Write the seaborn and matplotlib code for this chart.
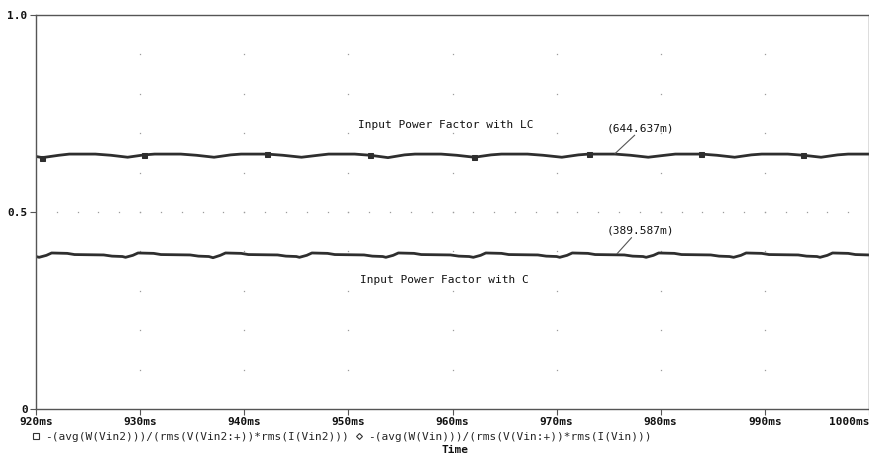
import numpy as np
import pandas as pd
import matplotlib
matplotlib.use("Agg")
import matplotlib.pyplot as plt
import seaborn as sns
from matplotlib.lines import Line2D

# ---- data ----
t_lc = [920.0, 920.6, 922.2, 923.2, 925.7, 927.2,
        928.8, 930.4, 931.4, 933.9, 935.4,
        937.1, 938.7, 939.7, 942.2, 943.7,
        945.5, 947.1, 948.1, 950.6, 952.1,
        953.8, 955.4, 956.4, 958.9, 960.4,
        962.1, 963.7, 964.7, 967.2, 968.7,
        970.5, 972.1, 973.1, 975.6, 977.1,
        978.8, 980.4, 981.4, 983.9, 985.4,
        987.1, 988.7, 989.7, 992.2, 993.7,
        995.4, 997.0, 998.0, 1000.0]
pf_lc = [0.641, 0.638, 0.644, 0.647, 0.647, 0.644,
         0.639, 0.645, 0.647, 0.647, 0.644,
         0.639, 0.645, 0.647, 0.647, 0.644,
         0.639, 0.644, 0.647, 0.647, 0.644,
         0.638, 0.645, 0.647, 0.647, 0.644,
         0.639, 0.645, 0.647, 0.647, 0.644,
         0.639, 0.645, 0.647, 0.647, 0.644,
         0.639, 0.644, 0.647, 0.647, 0.644,
         0.639, 0.645, 0.647, 0.647, 0.644,
         0.639, 0.645, 0.647, 0.647]

t_c = [920.0, 920.3, 921.0, 921.5, 923.0, 923.7, 926.5, 927.3, 928.3,
       928.6, 929.3, 929.8, 931.3, 932.0, 934.8, 935.6, 936.6,
       937.0, 937.7, 938.2, 939.7, 940.4, 943.2, 944.0, 945.0,
       945.3, 946.0, 946.5, 948.0, 948.7, 951.5, 952.3, 953.3,
       953.6, 954.3, 954.8, 956.3, 957.0, 959.8, 960.6, 961.6,
       962.0, 962.7, 963.2, 964.7, 965.4, 968.2, 969.0, 970.0,
       970.3, 971.0, 971.5, 973.0, 973.7, 976.5, 977.3, 978.3,
       978.6, 979.3, 979.8, 981.3, 982.0, 984.8, 985.6, 986.6,
       987.0, 987.7, 988.2, 989.7, 990.4, 993.2, 994.0, 995.0,
       995.3, 996.0, 996.5, 998.0, 998.7, 1000.0]
pf_c = [0.387, 0.385, 0.390, 0.396, 0.395, 0.392, 0.391, 0.388, 0.387,
        0.385, 0.390, 0.396, 0.395, 0.392, 0.391, 0.388, 0.387,
        0.384, 0.390, 0.396, 0.395, 0.392, 0.391, 0.388, 0.387,
        0.385, 0.390, 0.396, 0.395, 0.392, 0.391, 0.388, 0.387,
        0.385, 0.390, 0.396, 0.395, 0.392, 0.391, 0.388, 0.387,
        0.385, 0.390, 0.396, 0.395, 0.392, 0.391, 0.388, 0.387,
        0.385, 0.390, 0.396, 0.395, 0.392, 0.391, 0.388, 0.387,
        0.385, 0.390, 0.396, 0.395, 0.392, 0.391, 0.388, 0.387,
        0.385, 0.390, 0.396, 0.395, 0.392, 0.391, 0.388, 0.387,
        0.385, 0.390, 0.396, 0.395, 0.392, 0.391]

lc_marker_times = [920.8, 930.9, 941.5, 951.9, 962.6, 973.0, 983.5, 994.0]

x_ticks = [920, 930, 940, 950, 960, 970, 980, 990, 1000]
x_tick_labels = ["920ms", "930ms", "940ms", "950ms", "960ms", "970ms",
                 "980ms", "990ms", "1000ms"]
y_ticks = [0, 0.5, 1.0]
y_tick_labels = ["0", "0.5", "1.0"]

label_lc = "Input Power Factor with LC"
label_c = "Input Power Factor with C"
value_lc = "(644.637m)"
value_c = "(389.587m)"
legend_lc = "-(avg(W(Vin2)))/(rms(V(Vin2:+))*rms(I(Vin2)))"
legend_c = "-(avg(W(Vin)))/(rms(V(Vin:+))*rms(I(Vin)))"

# ---- style ----
sns.set_style("white")
MONO = ["DejaVu Sans Mono", "DejaVu Sans"]
plt.rcParams["font.family"] = MONO
FS = 8

fig = plt.figure(figsize=(8.7, 4.58), dpi=100)
ax = fig.add_axes([36 / 870, 1 - 409 / 458, (869 - 36) / 870, (409 - 15) / 458])

df_lc = pd.DataFrame({"t": t_lc, "pf": pf_lc})
df_c = pd.DataFrame({"t": t_c, "pf": pf_c})

mark_idx = [int(np.argmin(np.abs(np.array(t_lc) - m))) for m in lc_marker_times]

sns.lineplot(data=df_lc, x="t", y="pf", ax=ax, color="#2e2e2e", linewidth=2.0,
             marker="s", markevery=mark_idx, markersize=3.6,
             markerfacecolor="#2e2e2e", markeredgecolor="#2e2e2e")
sns.lineplot(data=df_c, x="t", y="pf", ax=ax, color="#2e2e2e", linewidth=2.0)

ax.set_xlim(920, 1000)
ax.set_ylim(0, 1.0)

# dotted grid
gcol = "#9c9c9c"
ygrid = np.arange(0.1, 1.0, 0.1)
for xv in x_ticks[1:-1]:
    ax.plot(np.full_like(ygrid, xv), ygrid, linestyle="none", marker="s",
            markersize=0.9, markeredgewidth=0, color=gcol, zorder=0)
xgrid = np.arange(922, 1000, 2)
ax.plot(xgrid, np.full_like(xgrid, 0.5, dtype=float), linestyle="none",
        marker="s", markersize=0.9, markeredgewidth=0, color=gcol, zorder=0)

ax.set_xticks(x_ticks)
ax.set_xticklabels(x_tick_labels, fontsize=FS, fontweight="bold")
ax.set_yticks(y_ticks)
ax.set_yticklabels(y_tick_labels, fontsize=FS, fontweight="bold")
ax.get_xticklabels()[-1].set_ha("right")
ax.tick_params(axis="both", direction="out", length=4, width=0.8,
               color="#555555", pad=2, labelcolor="#111111")
ax.tick_params(axis="x", bottom=True)
ax.tick_params(axis="y", left=True)
for s in ax.spines.values():
    s.set_color("#555555")
    s.set_linewidth(1.0)
ax.set_xlabel("")
ax.set_ylabel("")

# annotations
ax.text(950.9, 0.721, label_lc, fontsize=FS, va="center", ha="left", color="#111111")
ax.text(951.1, 0.327, label_c, fontsize=FS, va="center", ha="left", color="#111111")
ax.text(978.0, 0.713, value_lc, fontsize=FS, va="center", ha="center", color="#111111")
ax.text(978.0, 0.454, value_c, fontsize=FS, va="center", ha="center", color="#111111")
ax.plot([977.5, 975.6], [0.695, 0.648], color="#555555", linewidth=0.8)
ax.plot([977.2, 975.8], [0.435, 0.394], color="#555555", linewidth=0.8)

# legend line & axis title
handles = [Line2D([], [], linestyle="none", marker="s", markersize=4,
                  markerfacecolor="none", markeredgecolor="#333333", markeredgewidth=0.8),
           Line2D([], [], linestyle="none", marker="D", markersize=3,
                  markerfacecolor="none", markeredgecolor="#333333", markeredgewidth=0.8)]
fig.legend(handles, [legend_lc, legend_c], loc="center left",
           bbox_to_anchor=(33 / 870, 1 - 437 / 458), ncol=2, frameon=False,
           prop={"family": MONO, "size": FS}, handlelength=0.6,
           handletextpad=0.5, columnspacing=0.6, borderpad=0, borderaxespad=0)
fig.text((36 + 869) / 2 / 870 + 0.003, 1 - 450 / 458, "Time", fontsize=FS,
         ha="center", va="center", fontweight="bold", color="#111111")

fig.savefig("out.png", dpi=100)
